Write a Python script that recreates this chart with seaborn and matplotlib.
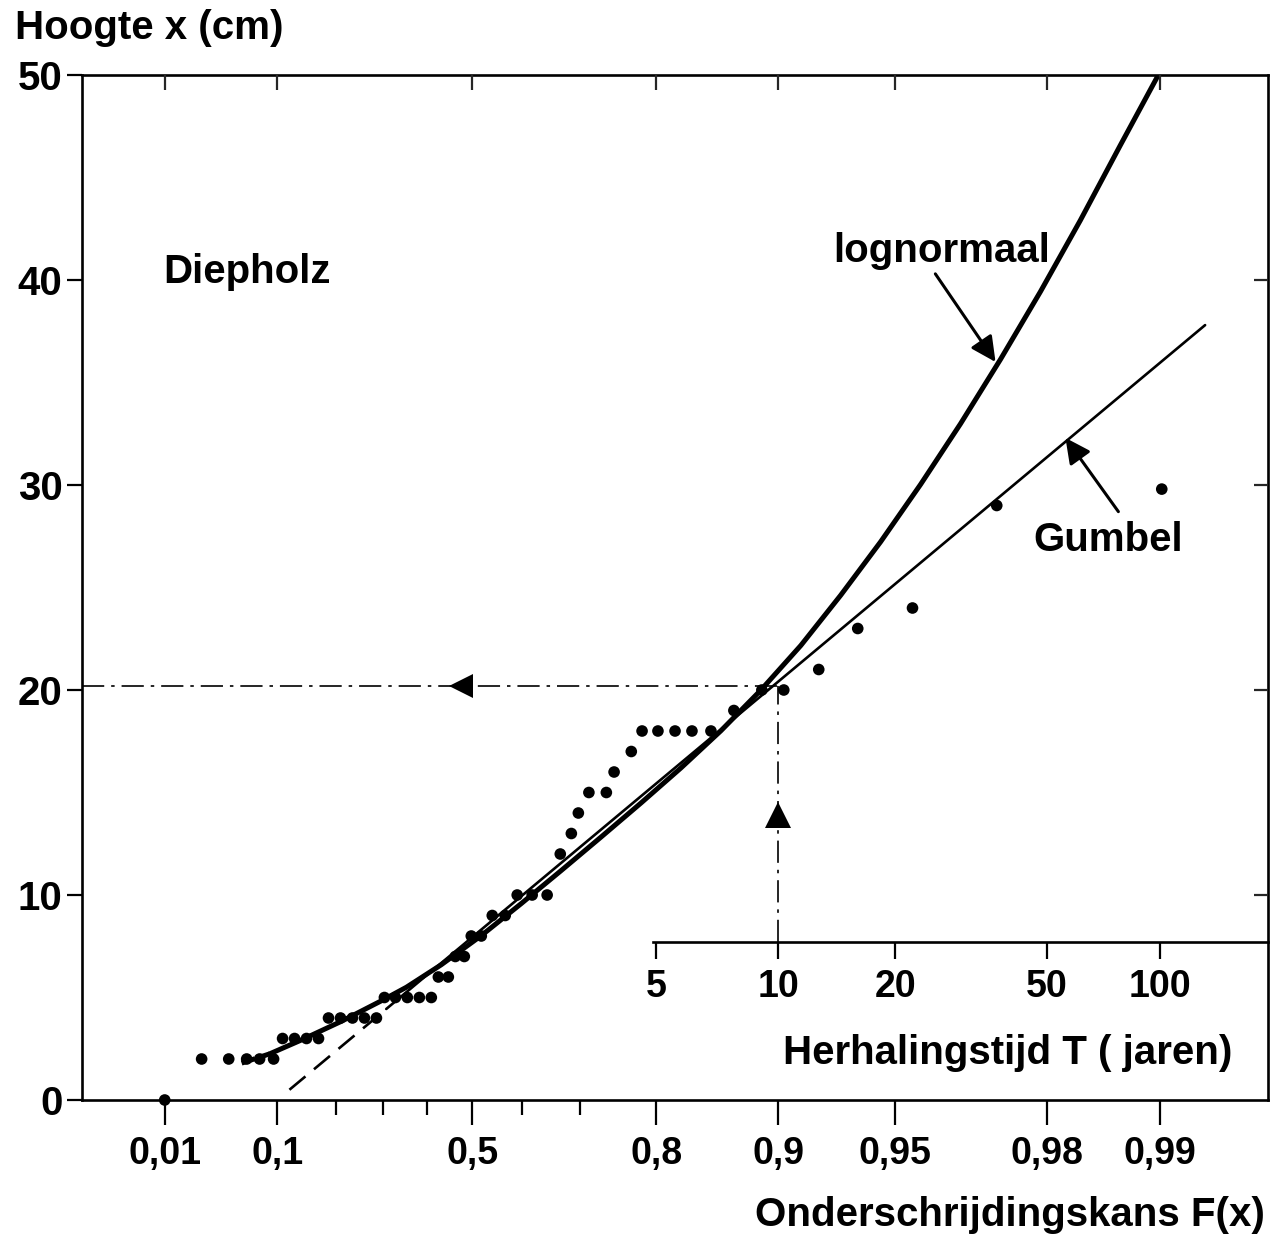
import numpy as np
import matplotlib
matplotlib.use("Agg")
import matplotlib.pyplot as plt
import seaborn as sns
import pandas as pd

# ---------------- data ----------------
obs_F = [0.0100,
         0.0255, 0.0448, 0.0620, 0.0767, 0.0948,
         0.1076, 0.1261, 0.1460, 0.1675,
         0.1863, 0.2100, 0.2346, 0.2601, 0.2862,
         0.3039, 0.3286, 0.3555, 0.3827, 0.4097,
         0.4255, 0.4477,
         0.4631, 0.4827,
         0.4977, 0.5189,
         0.5416, 0.5677,
         0.5910, 0.6190, 0.6457,
         0.6680, 0.6860, 0.6970, 0.7130, 0.7380, 0.7485, 0.7706,
         0.7836, 0.8016, 0.8195, 0.8358, 0.8525,
         0.8706, 0.8899, 0.9031, 0.9211, 0.9374, 0.9549, 0.9729, 0.9901]
obs_x = [0,
         2, 2, 2, 2, 2,
         3, 3, 3, 3,
         4, 4, 4, 4, 4,
         5, 5, 5, 5, 5,
         6, 6,
         7, 7,
         8, 8,
         9, 9,
         10, 10, 10,
         12, 13, 14, 15, 15, 16, 17,
         18, 18, 18, 18, 18,
         19, 20, 20, 21, 23, 24, 29, 29.8]

gumbel_F_dashed = [0.118, 0.308]
gumbel_x_dashed = [0.5, 4.44]
gumbel_F = [0.308, 0.99241]
gumbel_x = [4.44, 37.8]

lognorm_F_dashed = [0.0568, 0.0894]
lognorm_x_dashed = [1.8, 2.25]
lognorm_F = [0.0894, 0.1375, 0.2119, 0.2972, 0.3533, 0.4321, 0.5189, 0.5986,
             0.6694, 0.7307, 0.7824, 0.8254, 0.8606, 0.8892, 0.9123, 0.9307,
             0.9454, 0.95705, 0.96625, 0.97351, 0.97922, 0.98371, 0.98724,
             0.98982]
lognorm_x = [2.25, 2.93, 3.84, 4.84, 5.50, 6.60, 8.02, 9.58,
             11.19, 12.83, 14.49, 16.20, 18.01, 19.99, 22.17, 24.62,
             27.23, 30.03, 32.99, 36.13, 39.43, 42.91, 46.57,
             49.9]

F_ticks = [0.01, 0.1, 0.5, 0.8, 0.9, 0.95, 0.98, 0.99]
F_labels = ["0,01", "0,1", "0,5", "0,8", "0,9", "0,95", "0,98", "0,99"]
F_minor = [0.2, 0.3, 0.4, 0.6, 0.7]
T_ticks = [5, 10, 20, 50, 100]
T_labels = ["5", "10", "20", "50", "100"]
y_ticks = [0, 10, 20, 30, 40, 50]
y_right_ticks = [10, 20, 30, 40]

T_read = 10
x_read = 20.2

# ---------------- style ----------------
sns.set_theme(style="white")
plt.rcParams["font.family"] = ["Liberation Sans", "DejaVu Sans"]
plt.rcParams["font.weight"] = "bold"
plt.rcParams["lines.scale_dashes"] = False


def fwd(F):
    F = np.clip(np.asarray(F, dtype=float), 1e-12, 1 - 1e-12)
    return -np.log(-np.log(F))


def inv(g):
    return np.exp(-np.exp(-np.asarray(g, dtype=float)))


def t_fwd(T):
    T = np.maximum(np.asarray(T, dtype=float), 1 + 1e-9)
    return fwd(1 - 1 / T)


def t_inv(g):
    return 1 / (1 - np.minimum(inv(g), 1 - 1e-12))


W, H = 1286, 1241
fig = plt.figure(figsize=(W / 100, H / 100), dpi=100)
L, R, B, TOP = 82, 1268, 1100, 75
ax = fig.add_axes([L / W, 1 - B / H, (R - L) / W, (B - TOP) / H])
F_LIM = (0.00047, 0.99484)
ax.set_xscale("function", functions=(fwd, inv))
ax.set_xlim(F_LIM)
ax.set_ylim(0, 50)

for s in ax.spines.values():
    s.set_linewidth(1.9)
    s.set_color("black")

# ticks of main axes
ax.set_xticks(F_ticks, F_labels)
ax.set_xticks(F_minor, minor=True)
ax.set_yticks(y_ticks)
ax.tick_params(axis="x", which="major", direction="out", length=18, width=1.6,
               pad=8, labelsize=27, bottom=True, top=False, colors="black")
ax.tick_params(axis="x", which="minor", direction="out", length=11, width=1.6,
               bottom=True, top=False, colors="black")
ax.tick_params(axis="y", which="major", direction="out", length=11, width=1.6,
               pad=3, labelsize=29, left=True, right=False, colors="black")
for lab in ax.get_xticklabels() + ax.get_yticklabels():
    lab.set_fontweight("bold")

# top ticks (inward) at labelled probabilities
ax_top = ax.twiny()
ax_top.set_xscale("function", functions=(fwd, inv))
ax_top.set_xlim(F_LIM)
ax_top.set_xticks(F_ticks)
ax_top.tick_params(axis="x", which="both", direction="in", length=11, width=1.6,
                   top=True, bottom=False, labeltop=False, labelbottom=False)
ax_top.xaxis.set_minor_locator(matplotlib.ticker.NullLocator())
for s in ax_top.spines.values():
    s.set_visible(False)

# right ticks (inward)
ax_right = ax.twinx()
ax_right.set_ylim(0, 50)
ax_right.set_yticks(y_right_ticks)
ax_right.tick_params(axis="y", direction="in", length=10, width=1.6,
                     right=True, left=False, labelright=False, labelleft=False)
for s in ax_right.spines.values():
    s.set_visible(False)

# return-period axis
T_POS = 0.154
ax_T = ax.twiny()
ax_T.set_xscale("function", functions=(t_fwd, t_inv))
ax_T.set_xlim(1 / (1 - F_LIM[0]), 1 / (1 - F_LIM[1]))
for name, s in ax_T.spines.items():
    s.set_visible(name == "bottom")
ax_T.spines["bottom"].set_position(("axes", T_POS))
ax_T.spines["bottom"].set_linewidth(1.9)
ax_T.spines["bottom"].set_color("black")
ax_T.spines["bottom"].set_bounds(4.9, 1 / (1 - F_LIM[1]))
ax_T.xaxis.set_ticks_position("bottom")
ax_T.set_xticks(T_ticks, T_labels)
ax_T.xaxis.set_minor_locator(matplotlib.ticker.NullLocator())
ax_T.tick_params(axis="x", which="major", direction="out", length=12, width=1.6,
                 pad=7, labelsize=27, bottom=True, top=False, colors="black")
for lab in ax_T.get_xticklabels():
    lab.set_fontweight("bold")

# ---------------- marks ----------------
sns.lineplot(x=gumbel_F_dashed, y=gumbel_x_dashed, ax=ax, color="black",
             lw=1.9, linestyle=(0, (15, 8)), sort=False, estimator=None)
sns.lineplot(x=gumbel_F, y=gumbel_x, ax=ax, color="black", lw=1.9,
             sort=False, estimator=None)
sns.lineplot(x=lognorm_F_dashed, y=lognorm_x_dashed, ax=ax, color="black",
             lw=3.6, linestyle=(0, (10, 5)), sort=False, estimator=None)
sns.lineplot(x=lognorm_F, y=lognorm_x, ax=ax, color="black", lw=3.6,
             sort=False, estimator=None, solid_capstyle="round",
             solid_joinstyle="round")

obs = pd.DataFrame({"F": obs_F, "x": obs_x})
sns.scatterplot(data=obs, x="F", y="x", ax=ax, color="black", s=70,
                edgecolor="none", zorder=5, clip_on=False)

# reading lines (dash-dot)
F_read = 1 - 1 / T_read
dashdot = (0, (16, 5, 2.5, 5))
ax.plot([F_LIM[0], F_read], [x_read, x_read], color="black", lw=1.2, ls=dashdot)
ax.axvline(F_read, ymin=T_POS, ymax=x_read / 50, color="black", lw=1.2, ls=dashdot)
ax.plot([0.476], [x_read], marker="<", ms=17, color="black", mew=0)
ax.plot([F_read], [13.9], marker="^", ms=19, color="black", mew=0)

# annotation arrows
arrow = dict(arrowstyle="-|>", color="black", lw=2.2, mutation_scale=38,
             shrinkA=0, shrinkB=0)
ax.annotate("", xy=(0.9727, 36.0), xytext=(0.9607, 40.3), arrowprops=arrow)
ax.annotate("", xy=(0.98216, 32.3), xytext=(0.98709, 28.7), arrowprops=arrow)

ax.set_xlabel("")
ax.set_ylabel("")
for a in (ax_top, ax_right, ax_T):
    a.set_xlabel("")
    a.set_ylabel("")


# ---------------- texts ----------------
def ftext(px, py, s, ha="left", va="baseline", size=29):
    fig.text(px / W, 1 - py / H, s, ha=ha, va=va, fontsize=size,
             fontweight="bold", color="black")


ftext(15, 39, "Hoogte x (cm)")
ftext(163, 283, "Diepholz")
ftext(833, 262, "lognormaal")
ftext(1033, 551, "Gumbel")
ftext(1232, 1064, "Herhalingstijd T ( jaren)", ha="right")
ftext(1265, 1226, "Onderschrijdingskans F(x)", ha="right")

fig.savefig("out.png", dpi=100, facecolor="white")
